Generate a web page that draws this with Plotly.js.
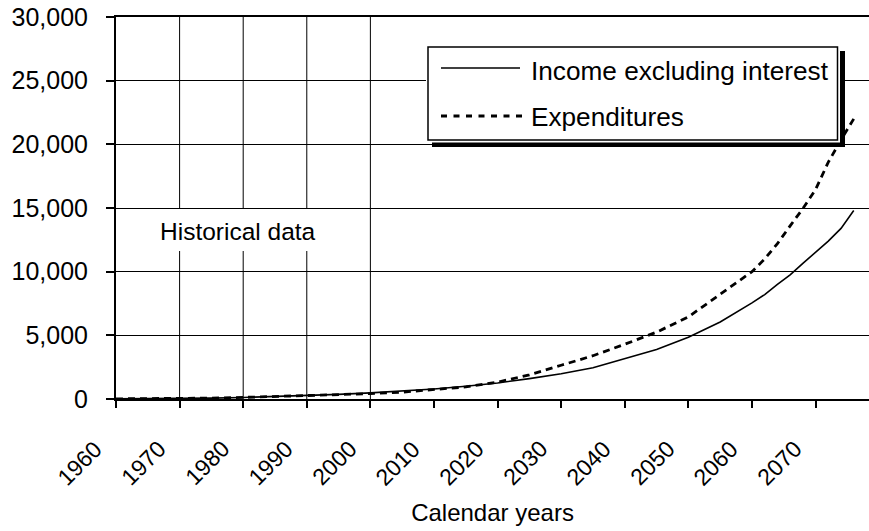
<!DOCTYPE html>
<html>
<head>
<meta charset="utf-8">
<script src="https://cdn.plot.ly/plotly-3.0.1.min.js"></script>
<style>
  html, body { margin: 0; padding: 0; background: #fff; }
  #chart { width: 869px; height: 531px; }
</style>
</head>
<body>
<div id="chart"></div>
<script>
// ---- Data (billions of dollars) ----
const years = [1960, 1965, 1970, 1975, 1980, 1985, 1990, 1995, 2000, 2005, 2010, 2015, 2020, 2025, 2030, 2035, 2040, 2045, 2050, 2055, 2060, 2062, 2064, 2066, 2068, 2070, 2072, 2074, 2076];
const incomeExInterest = [14, 22, 40, 70, 120, 190, 290, 360, 480, 610, 780, 1000, 1260, 1600, 1980, 2450, 3150, 3880, 4850, 6050, 7550, 8200, 9000, 9750, 10650, 11500, 12400, 13400, 14800];
const expenditures = [12, 20, 35, 70, 125, 190, 255, 340, 420, 540, 720, 950, 1320, 1900, 2650, 3400, 4300, 5250, 6450, 8250, 10000, 11000, 12200, 13600, 14950, 16450, 18600, 20350, 22000];
const seriesNames = ["Income excluding interest", "Expenditures"];
const xTickVals = [1960, 1970, 1980, 1990, 2000, 2010, 2020, 2030, 2040, 2050, 2060, 2070];
const xTickText = ["1960", "1970", "1980", "1990", "2000", "2010", "2020", "2030", "2040", "2050", "2060", "2070"];
const yTickVals = [0, 5000, 10000, 15000, 20000, 25000, 30000];
const historicalGridYears = [1970, 1980, 1990, 2000];
const historicalLabel = "Historical data";
const xTitle = "Calendar years";

// ---- Layout helpers (pixel -> paper) ----
const W = 869, H = 531;
const L = 116, T = 17, PW = 753, PH = 382;
const X0 = 1960, X1 = 2078.4;
const px = v => (v - L) / PW;
const py = v => (T + PH - v) / PH;
const FONT = "Arial, 'Liberation Sans', sans-serif";

const traces = [
  { x: years, y: incomeExInterest, name: seriesNames[0], type: "scatter", mode: "lines",
    line: { color: "#000", width: 1.6 }, showlegend: false, hoverinfo: "x+y" },
  { x: years, y: expenditures, name: seriesNames[1], type: "scatter", mode: "lines",
    line: { color: "#000", width: 2.8, dash: "7px,5px" }, showlegend: false, hoverinfo: "x+y" }
];

const shapes = [];
historicalGridYears.forEach(yr => shapes.push({
  type: "line", xref: "x", yref: "y", x0: yr, x1: yr, y0: 0, y1: 30000,
  line: { color: "#000", width: 1 }, layer: "below"
}));
shapes.push({ type: "rect", xref: "paper", yref: "paper",
  x0: px(152), x1: px(330), y0: py(251), y1: py(209),
  fillcolor: "#fff", line: { width: 0 }, layer: "above" });
shapes.push({ type: "rect", xref: "paper", yref: "paper",
  x0: px(432), x1: px(845), y0: py(147), y1: py(51),
  fillcolor: "#000", line: { width: 0 }, layer: "above" });
shapes.push({ type: "rect", xref: "paper", yref: "paper",
  x0: px(426), x1: px(840), y0: py(142.5), y1: py(45),
  fillcolor: "#fff", line: { width: 0 }, layer: "above" });
shapes.push({ type: "rect", xref: "paper", yref: "paper",
  x0: px(428), x1: px(837.5), y0: py(140), y1: py(47),
  fillcolor: "rgba(0,0,0,0)", line: { color: "#000", width: 1.5 }, layer: "above" });
shapes.push({ type: "line", xref: "paper", yref: "paper",
  x0: px(441), x1: px(520), y0: py(68), y1: py(68),
  line: { color: "#000", width: 1.6 }, layer: "above" });
shapes.push({ type: "line", xref: "paper", yref: "paper",
  x0: px(441), x1: px(522), y0: py(116), y1: py(116),
  line: { color: "#000", width: 3, dash: "6px,6.5px" }, layer: "above" });

const annotations = [
  { text: historicalLabel, xref: "paper", yref: "paper", x: px(238), y: py(231),
    xanchor: "center", yanchor: "middle", showarrow: false,
    font: { family: FONT, size: 24.5, color: "#000" } },
  { text: seriesNames[0], xref: "paper", yref: "paper", x: px(529), y: py(71),
    xanchor: "left", yanchor: "middle", showarrow: false,
    font: { family: FONT, size: 26.2, color: "#000" } },
  { text: seriesNames[1], xref: "paper", yref: "paper", x: px(529), y: py(117),
    xanchor: "left", yanchor: "middle", showarrow: false,
    font: { family: FONT, size: 26.2, color: "#000" } }
];
// rotated x tick labels, placed on the x scale below-left of each tick
xTickVals.forEach((v, i) => annotations.push({
  text: xTickText[i], xref: "x", yref: "paper", x: v, y: 0,
  xanchor: "right", yanchor: "top", xshift: -6, yshift: -34,
  textangle: -45, showarrow: false, cliponaxis: false,
  font: { family: FONT, size: 23, color: "#000" }
}));

const layout = {
  width: W, height: H,
  margin: { l: L, r: 0, t: T, b: H - T - PH, pad: 0 },
  paper_bgcolor: "#fff", plot_bgcolor: "#fff",
  showlegend: false,
  font: { family: FONT, color: "#000", size: 24 },
  xaxis: {
    range: [X0, X1], tickmode: "array", tickvals: xTickVals, showticklabels: false,
    ticks: "outside", ticklen: 7, tickwidth: 2, tickcolor: "#000",
    showline: true, linecolor: "#000", linewidth: 2, mirror: true,
    showgrid: false, zeroline: false,
    title: { text: xTitle, font: { family: FONT, size: 24, color: "#000" }, standoff: 97 }
  },
  yaxis: {
    range: [0, 30000], tickmode: "array", tickvals: yTickVals, tickformat: ",d",
    tickfont: { family: FONT, size: 25, color: "#000" },
    ticks: "outside", ticklen: 8, tickwidth: 2, tickcolor: "#000",
    ticklabelstandoff: 13,
    showline: true, linecolor: "#000", linewidth: 2,
    showgrid: true, gridcolor: "#000", gridwidth: 1, zeroline: false
  },
  shapes: shapes,
  annotations: annotations
};

Plotly.newPlot("chart", traces, layout, { displayModeBar: false, staticPlot: true });
</script>
</body>
</html>
